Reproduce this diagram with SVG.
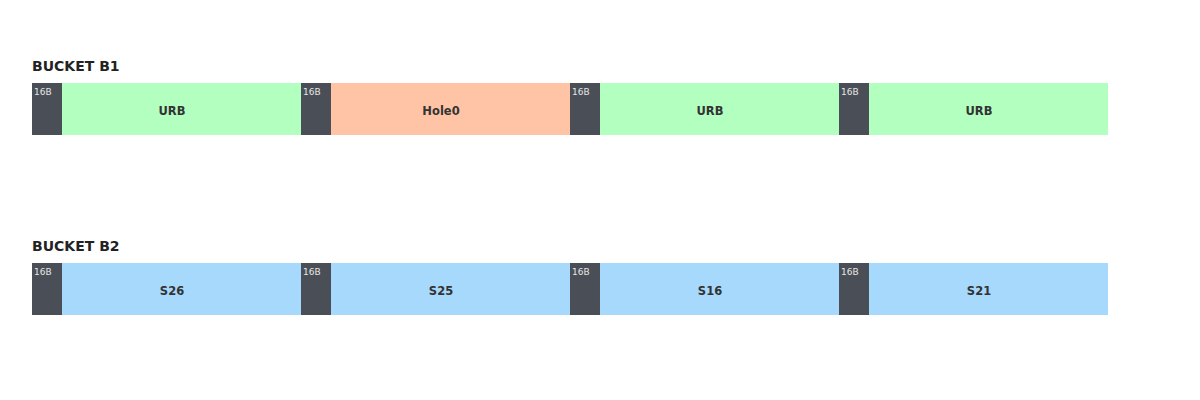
<svg xmlns="http://www.w3.org/2000/svg" width="1200" height="400" viewBox="0 0 1200 400">
<style>
.title{font-family:"DejaVu Sans",sans-serif;font-weight:bold;font-size:14px;fill:#222}
.hdr{fill:#4a4f57}
.hl{font-family:"DejaVu Sans",sans-serif;font-size:9px;fill:#e6e6e6}
.lbl{font-family:"DejaVu Sans",sans-serif;font-weight:bold;font-size:11.5px;fill:#333;text-anchor:middle}
.urb{fill:#b3ffc0}
.hole{fill:#ffc4a6}
.seg{fill:#a6d9fc}
</style>
<rect width="1200" height="400" fill="#ffffff"/>
<g id="bucket-b1">
<text class="title" x="32" y="71">BUCKET B1</text>
<g id="b1-s1"><rect class="hdr" x="32" y="83" width="30" height="52"/><text class="hl" x="34" y="95">16B</text><rect class="urb" x="62" y="83" width="239" height="52"/><text class="lbl" x="172" y="115">URB</text></g>
<g id="b1-s2"><rect class="hdr" x="301" y="83" width="30" height="52"/><text class="hl" x="303" y="95">16B</text><rect class="hole" x="331" y="83" width="239" height="52"/><text class="lbl" x="441" y="115">Hole0</text></g>
<g id="b1-s3"><rect class="hdr" x="570" y="83" width="30" height="52"/><text class="hl" x="572" y="95">16B</text><rect class="urb" x="600" y="83" width="239" height="52"/><text class="lbl" x="710" y="115">URB</text></g>
<g id="b1-s4"><rect class="hdr" x="839" y="83" width="30" height="52"/><text class="hl" x="841" y="95">16B</text><rect class="urb" x="869" y="83" width="239" height="52"/><text class="lbl" x="979" y="115">URB</text></g>
</g>
<g id="bucket-b2">
<text class="title" x="32" y="251">BUCKET B2</text>
<g id="b2-s1"><rect class="hdr" x="32" y="263" width="30" height="52"/><text class="hl" x="34" y="275">16B</text><rect class="seg" x="62" y="263" width="239" height="52"/><text class="lbl" x="172" y="295">S26</text></g>
<g id="b2-s2"><rect class="hdr" x="301" y="263" width="30" height="52"/><text class="hl" x="303" y="275">16B</text><rect class="seg" x="331" y="263" width="239" height="52"/><text class="lbl" x="441" y="295">S25</text></g>
<g id="b2-s3"><rect class="hdr" x="570" y="263" width="30" height="52"/><text class="hl" x="572" y="275">16B</text><rect class="seg" x="600" y="263" width="239" height="52"/><text class="lbl" x="710" y="295">S16</text></g>
<g id="b2-s4"><rect class="hdr" x="839" y="263" width="30" height="52"/><text class="hl" x="841" y="275">16B</text><rect class="seg" x="869" y="263" width="239" height="52"/><text class="lbl" x="979" y="295">S21</text></g>
</g>
<g id="connectors"></g>
</svg>
